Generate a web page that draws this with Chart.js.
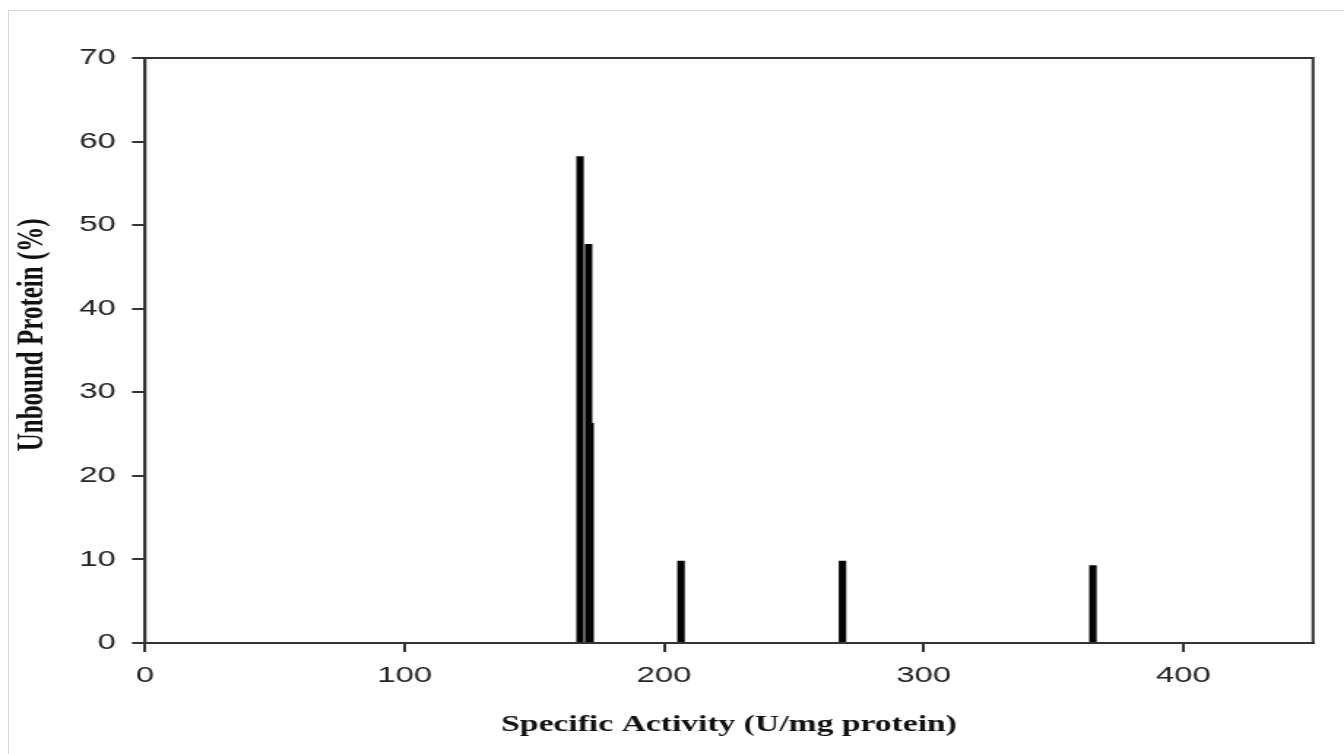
<!DOCTYPE html>
<html>
<head>
<meta charset="utf-8">
<script src="https://cdn.jsdelivr.net/npm/chart.js@4/dist/chart.umd.min.js"></script>
<style>
  html, body { margin: 0; padding: 0; background: #fff; overflow: hidden; }
  #frame { position: absolute; left: 8px; top: 10px; width: 1340px; height: 750px;
           border-top: 1px solid #d6d6d6; border-left: 1px solid #d6d6d6; }
  /* the source figure is stretched sideways, so the chart is drawn narrow and widened */
  #wrap { position: absolute; left: 0; top: 0; width: 920px; height: 754px;
          transform: scaleX(1.4609); transform-origin: 0 0; }
</style>
</head>
<body>
<div id="frame"></div>
<div id="wrap"><canvas id="chart" width="920" height="754"></canvas></div>
<script>
const SX = 1344 / 920;

// specific activity (U/mg protein) and unbound protein (%)
const activity = [167.6, 171.5, 170.9, 206.5, 268.7, 365.2];
const unbound = [58.2, 26.3, 47.7, 9.8, 9.8, 9.25];
const xTicks = [0, 100, 200, 300, 400];
const yTicks = [0, 10, 20, 30, 40, 50, 60, 70];

const axisColor = '#333';
const tickFont = { family: '"Liberation Sans", Arial, sans-serif', size: 22.5 };
const titleFont = { family: '"Liberation Serif", "Times New Roman", serif', weight: 'bold' };

const boxFrame = {
  id: 'boxFrame',
  afterDraw(chart) {
    const { ctx, chartArea: a } = chart;
    ctx.save();
    ctx.strokeStyle = axisColor;
    ctx.lineWidth = 2;
    ctx.strokeRect(a.left, a.top, a.right - a.left, a.bottom - a.top);
    ctx.restore();
  }
};

new Chart(document.getElementById('chart'), {
  type: 'bar',
  data: {
    datasets: [{
      data: activity.map((x, i) => ({ x: x, y: unbound[i] })),
      backgroundColor: '#000',
      borderWidth: 0,
      barThickness: 6.5 / SX
    }]
  },
  options: {
    responsive: false,
    animation: false,
    devicePixelRatio: 1,
    layout: { padding: { left: 0, top: 58, right: (1344 - 1313) / SX, bottom: 0 } },
    plugins: { legend: { display: false }, tooltip: { enabled: false } },
    scales: {
      x: {
        type: 'linear',
        min: 0,
        max: 450,
        offset: false,
        afterFit(scale) { scale.height = 754 - 643; },
        afterBuildTicks(scale) { scale.ticks = xTicks.map(v => ({ value: v })); },
        grid: { offset: false, drawOnChartArea: false, drawTicks: true, tickLength: 9, color: axisColor, lineWidth: 2 },
        border: { display: true, color: axisColor, width: 2 },
        ticks: { color: '#222', font: tickFont, padding: 10.5, maxRotation: 0, autoSkip: false },
        title: { display: true, text: 'Specific Activity (U/mg protein)', color: '#111',
                 font: Object.assign({ size: 23 }, titleFont), padding: { top: 0, bottom: 15 } }
      },
      y: {
        min: 0,
        max: 70,
        afterFit(scale) { scale.width = 145 / SX; },
        afterBuildTicks(scale) { scale.ticks = yTicks.map(v => ({ value: v })); },
        grid: { drawOnChartArea: false, drawTicks: true, tickLength: 13 / SX, color: axisColor, lineWidth: 2 },
        border: { display: true, color: axisColor, width: 2 },
        ticks: { color: '#222', font: tickFont, padding: 11 },
        // leading spaces lift the rotated title a little above the axis centre, as in the source
        title: { display: true, text: '     Unbound Protein (%)', color: '#111',
                 font: Object.assign({ size: 25 }, titleFont), padding: { top: 8, bottom: 0 } }
      }
    }
  },
  plugins: [boxFrame]
});
</script>
</body>
</html>
